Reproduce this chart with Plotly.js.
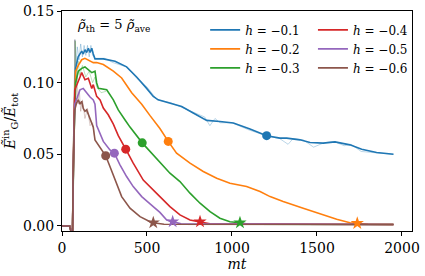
<!DOCTYPE html>
<html><head><meta charset="utf-8">
<script src="https://cdn.plot.ly/plotly-3.0.1.min.js"></script>
<style>html,body{margin:0;padding:0;background:#fff;}</style>
</head><body><div id="chart" style="width:425px;height:276px;"></div>
<script>
// series data (mt, value)
const hLabels = ["−0.1","−0.2","−0.3","−0.4","−0.5","−0.6"];
const colors = ["#1f77b4","#ff7f0e","#2ca02c","#d62728","#9467bd","#8c564b"];

// smoothed curves
const t1 = [0,45,52,62,70,80,95,106,116,125,135,145,155,165,175,184,194,243,312,380,439,498,537,566,635,704,772,851,929,1008,1106,1204,1282,1322,1400,1459,1537,1606,1694,1763,1851,1950];
const v1 = [0,0,-0.003,-0.003,0.07,0.11,0.118,0.12,0.122,0.12,0.123,0.121,0.124,0.121,0.124,0.12,0.1166,0.1166,0.115,0.111,0.104,0.096,0.0904,0.088,0.0858,0.0834,0.0788,0.0737,0.0729,0.0718,0.0676,0.063,0.0613,0.0613,0.0601,0.0583,0.0578,0.0587,0.0566,0.0536,0.0513,0.0500];

const t2 = [0,45,52,62,70,80,96,116,135,165,184,204,243,302,351,410,469,518,576,625,674,753,831,910,988,1086,1165,1224,1301,1419,1537,1616,1694,1737,1800,1950];
const v2 = [0,0,-0.003,-0.003,0.07,0.108,0.112,0.116,0.117,0.115,0.114,0.114,0.1126,0.108,0.1033,0.093,0.085,0.077,0.068,0.059,0.0508,0.0438,0.038,0.0333,0.0298,0.0275,0.024,0.0205,0.017,0.0124,0.0077,0.0047,0.0023,0.0019,0.0012,0.001];

const t3 = [0,45,52,62,70,80,96,116,135,155,175,194,204,214,263,302,331,371,400,472,518,576,635,694,753,812,871,929,988,1047,1100,1950];
const v3 = [0,0,-0.003,-0.003,0.06,0.10,0.108,0.11,0.111,0.109,0.107,0.108,0.0998,0.096,0.095,0.088,0.081,0.074,0.069,0.058,0.052,0.0438,0.0368,0.031,0.0229,0.0159,0.01,0.0054,0.003,0.0023,0.0012,0.001];

const t4 = [0,45,52,62,68,75,106,116,135,155,175,184,204,224,243,272,302,331,375,419,478,518,576,635,694,753,812,870,1950];
const v4 = [0,0,-0.003,-0.003,0.05,0.095,0.104,0.107,0.102,0.103,0.096,0.0986,0.0904,0.088,0.0823,0.0776,0.071,0.063,0.0536,0.0438,0.032,0.027,0.0205,0.0135,0.0077,0.0042,0.003,0.0015,0.001];

const t5 = [0,45,52,62,68,75,106,125,145,165,184,194,204,224,243,282,308,341,380,419,469,518,576,616,651,700,1950];
const v5 = [0,0,-0.003,-0.003,0.05,0.085,0.095,0.096,0.093,0.09,0.088,0.085,0.07,0.064,0.059,0.053,0.0508,0.0427,0.0345,0.0275,0.0205,0.0155,0.0095,0.0042,0.003,0.0015,0.001];

const t6 = [0,45,52,62,66,75,86,96,106,116,125,135,145,155,165,175,184,194,234,257,282,312,351,400,459,518,537,600,1950];
const v6 = [0,0,-0.004,-0.004,0.04,0.081,0.086,0.088,0.085,0.087,0.082,0.08,0.081,0.0776,0.074,0.072,0.069,0.06,0.053,0.049,0.0415,0.032,0.0205,0.0124,0.0065,0.003,0.0023,0.0012,0.001];

// faint raw curves (partial, as visible)
const r1t = [62,70,76,82,90,100,110,120,130,140,150,160,170,180,194,250,300,380,440,500,560,640,700,780,840,870,900,930,1000,1100,1200,1280,1330,1360,1420,1480,1540,1600,1660,1700,1760,1850,1950];
const r1v = [-0.003,0.09,0.13,0.112,0.125,0.116,0.127,0.118,0.126,0.119,0.126,0.118,0.126,0.119,0.117,0.117,0.114,0.111,0.103,0.097,0.088,0.086,0.083,0.079,0.076,0.070,0.075,0.072,0.072,0.067,0.063,0.061,0.057,0.061,0.060,0.055,0.058,0.059,0.056,0.057,0.052,0.051,0.050];
const r3t = [62,70,78,86,95,105,120,140,160,180,194,204,230,260];
const r3v = [-0.003,0.07,0.129,0.1,0.115,0.105,0.112,0.104,0.108,0.1,0.104,0.097,0.093,0.094];
const r6t = [62,68,76,82,88,95,102,110,120,135,150,165,180,194];
const r6v = [-0.004,0.06,0.13,0.09,0.105,0.085,0.095,0.08,0.088,0.075,0.082,0.07,0.072,0.06];

// circle markers (mt, value) per series
const circT = [1204,625,472,375,308,257];
const circV = [0.063,0.059,0.058,0.0536,0.0508,0.049];
// star markers (null = none)
const starT = [null,1737,1047,812,651,537];
const starV = [null,0.0019,0.0023,0.003,0.003,0.0023];

const T = [t1,t2,t3,t4,t5,t6];
const V = [v1,v2,v3,v4,v5,v6];

const traces = [];
const raws = [[r1t,r1v,0],[r3t,r3v,2],[r6t,r6v,5]];
raws.forEach(([rt,rv,ci]) => traces.push({
  x: rt, y: rv, type: "scatter", mode: "lines",
  line: {color: colors[ci], width: 1}, opacity: 0.3,
  showlegend: false, hoverinfo: "skip"
}));
for (let i = 0; i < 6; i++) {
  traces.push({
    x: T[i], y: V[i], type: "scatter", mode: "lines",
    name: "<i>h</i> = " + hLabels[i],
    line: {color: colors[i], width: 1.6},
    legend: i < 3 ? "legend" : "legend2"
  });
}
for (let i = 0; i < 6; i++) {
  traces.push({
    x: [circT[i]], y: [circV[i]], type: "scatter", mode: "markers",
    marker: {symbol: "circle", size: 9, color: colors[i]},
    showlegend: false, hoverinfo: "skip"
  });
  if (starT[i] !== null) {
    traces.push({
      x: [starT[i]], y: [starV[i]], type: "scatter", mode: "markers",
      marker: {symbol: "star", size: 10, color: colors[i]},
      showlegend: false, hoverinfo: "skip"
    });
  }
}

const FAM = "DejaVu Serif";
const f = (s) => ({family: FAM, size: s, color: "#000"});
const layout = {
  width: 425, height: 276,
  margin: {l: 62, r: 13, t: 11, b: 45},
  paper_bgcolor: "#fff", plot_bgcolor: "#fff",
  font: f(13),
  showlegend: true,
  xaxis: {
    range: [0, 2059], tickvals: [0,500,1000,1500,2000],
    ticks: "outside", ticklen: 4, tickwidth: 1, tickcolor: "#000",
    showline: true, linecolor: "#000", linewidth: 1, mirror: true,
    showgrid: false, zeroline: false,
    tickfont: f(14),
    title: {text: "<i>mt</i>", font: f(14), standoff: 4}
  },
  yaxis: {
    range: [-0.0035, 0.15], tickvals: [0,0.05,0.1,0.15], tickformat: ".2f",
    ticks: "outside", ticklen: 4, tickwidth: 1, tickcolor: "#000",
    showline: true, linecolor: "#000", linewidth: 1, mirror: true,
    showgrid: false, zeroline: false,
    tickfont: f(14),
    title: {text: "<i>Ẽ</i><sup>in</sup><sub>G</sub>/<i>Ẽ</i><sub>tot</sub>", font: f(14), standoff: 8}
  },
  legend: {
    x: 0.409, y: 0.98, xanchor: "left", yanchor: "top",
    bgcolor: "rgba(0,0,0,0)", font: f(12), tracegroupgap: 0
  },
  legend2: {
    x: 0.717, y: 0.98, xanchor: "left", yanchor: "top",
    bgcolor: "rgba(0,0,0,0)", font: f(12), tracegroupgap: 0
  },
  annotations: [{
    xref: "paper", yref: "paper", x: 0.037, y: 0.936, xanchor: "left", yanchor: "middle",
    showarrow: false, text: "<i>ρ̃</i><sub>th</sub> = 5 <i>ρ̃</i><sub>ave</sub>",
    font: f(13)
  }]
};
Plotly.newPlot("chart", traces, layout, {staticPlot: true, displayModeBar: false});
</script></body></html>
